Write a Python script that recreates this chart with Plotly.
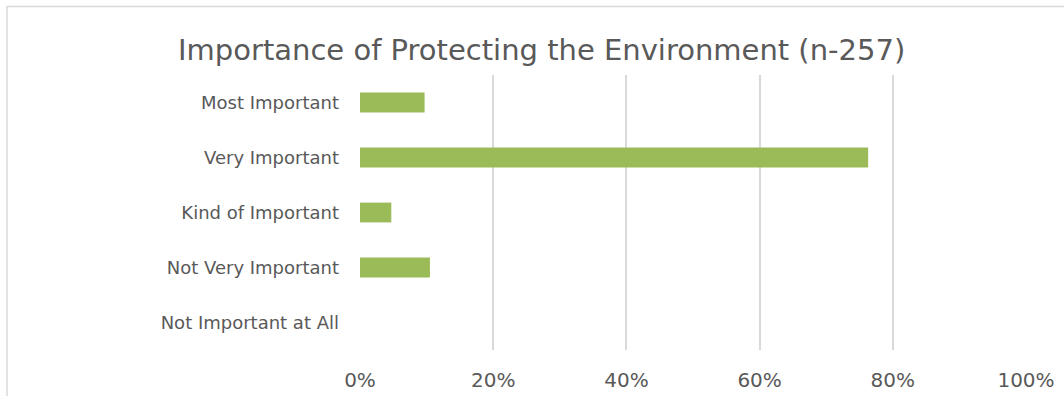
import plotly.graph_objects as go

# Survey responses, top row first
categories = ["Most Important", "Very Important", "Kind of Important",
              "Not Very Important", "Not Important at All"]
shares = [0.097, 0.763, 0.047, 0.105, 0.0]
tick_values = [0, 0.2, 0.4, 0.6, 0.8, 1.0]
tick_labels = ["0%", "20%", "40%", "60%", "80%", "100%"]
title_text = "Importance of Protecting the Environment (n-257)"

W, H = 1064, 396
L, R, T, B = 360, 38, 75, 46
pw, ph = W - L - R, H - T - B

text_color = "#595959"
grid_color = "#D9D9D9"
font_family = "DejaVu Sans, sans-serif"

fig = go.Figure(
    go.Bar(
        x=shares,
        y=categories,
        orientation="h",
        marker=dict(color="#9BBB59", line=dict(width=0)),
        width=0.36,
        hoverinfo="x+y",
    )
)

# outer chart frame, only its top and left edges fall inside the page
fx0 = (7 - L) / pw
fy1 = 1 + (T - 6.5) / ph
fig.add_shape(type="rect", xref="paper", yref="paper",
              x0=fx0, x1=1.2, y0=-0.4, y1=fy1,
              line=dict(color=grid_color, width=1.5), layer="below")

# chart title, centred on the frame
fig.add_annotation(
    text=title_text, xref="paper", yref="paper",
    x=(541 - L) / pw, y=1 + (T - 50) / ph,
    xanchor="center", yanchor="middle", showarrow=False,
    font=dict(family=font_family, size=29, color=text_color),
)

fig.update_layout(
    width=W, height=H,
    margin=dict(l=L, r=R, t=T, b=B, pad=0, autoexpand=False),
    paper_bgcolor="white", plot_bgcolor="white",
    showlegend=False,
    font=dict(family=font_family, color=text_color),
    xaxis=dict(
        range=[0, 1], tickvals=tick_values, ticktext=tick_labels,
        showgrid=True, gridcolor=grid_color, gridwidth=1.5,
        zeroline=False, showline=False, ticks="",
        tickfont=dict(size=20, color=text_color),
        ticklabelstandoff=16, fixedrange=True, automargin=False,
    ),
    yaxis=dict(
        categoryorder="array", categoryarray=categories,
        autorange="reversed", showgrid=False, zeroline=False,
        showline=False, ticks="",
        tickfont=dict(size=18, color=text_color),
        ticklabelstandoff=20, fixedrange=True, automargin=False,
    ),
)

fig.write_html("out.html")
